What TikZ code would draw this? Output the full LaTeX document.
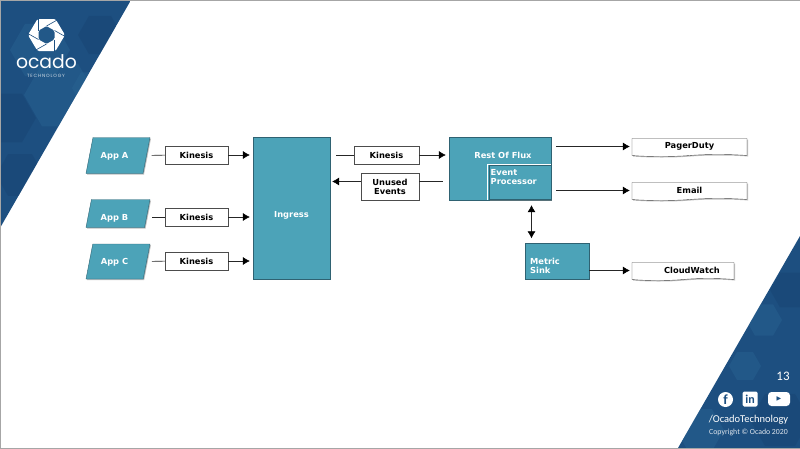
\documentclass[tikz,border=0pt]{standalone}
\usepackage{fontspec}
\setmainfont{DejaVu Sans}
\newfontfamily\logofont{Poppins}
\newfontfamily\footfont{Carlito}
\usetikzlibrary{arrows.meta,shapes.geometric,shapes.symbols,shadows}
\definecolor{boxteal}{HTML}{4CA3B8}
\definecolor{boxedge}{HTML}{2F6272}
\definecolor{navy}{HTML}{1D4F80}
\definecolor{navydark}{HTML}{174270}
\definecolor{navylight}{HTML}{2A6694}
\tikzstyle{softshadow}=[drop shadow={opacity=0.5, shadow xshift=1pt, shadow yshift=-1pt}]
\tikzstyle{appnode}=[trapezium, trapezium left angle=79, trapezium right angle=101, trapezium stretches body=true, draw=boxedge, fill=boxteal, inner sep=0pt, minimum width=64pt, text=white, font=\bfseries\fontsize{8.3}{9}\selectfont, softshadow]
\tikzstyle{boxnode}=[rectangle, draw=boxedge, fill=boxteal, inner sep=0pt, text=white, font=\bfseries\fontsize{8.3}{9}\selectfont, softshadow]
\tikzstyle{boxtext}=[inner sep=0pt, text=white, align=left, font=\bfseries\fontsize{8.3}{9}\selectfont]
\tikzstyle{queuenode}=[rectangle, draw=black!70, fill=white, inner sep=0pt, align=center, font=\bfseries\fontsize{8.3}{9}\selectfont, softshadow]
\tikzstyle{sinknode}=[tape, tape bend top=none, tape bend height=2pt, draw=black!70, fill=white, inner sep=0pt, font=\bfseries\fontsize{8.3}{9}\selectfont, softshadow]
\tikzstyle{flow}=[black!85, line width=0.55pt, -{Latex[length=7pt,width=8pt,color=black]}]
\tikzstyle{plainflow}=[black!85, line width=0.55pt]
\tikzstyle{bothflow}=[black!85, line width=0.55pt, {Latex[length=7pt,width=8pt,color=black]}-{Latex[length=7pt,width=8pt,color=black]}]
\newcommand{\appnode}{\node[appnode]}
\newcommand{\boxnode}{\node[boxnode]}
\newcommand{\queuenode}{\node[queuenode]}
\newcommand{\sinknode}{\node[sinknode]}
\begin{document}
\begin{tikzpicture}[x=1pt,y=-1pt]
            \useasboundingbox (0,0) rectangle (800,448);
            \fill[white] (0,0) rectangle (800,448);
            % corner top left
            \begin{scope}
                \clip (0,0) -- (131,0) -- (0,228) -- cycle;
                \fill[navy] (0,0) rectangle (131,228);
                \foreach \x/\y/\r/\c in {60/95/36/navylight, 8/118/28/navydark, 100/35/22/navydark, 20/175/24/navydark, 40/50/30/navylight, 90/88/18/navylight}
                    \fill[\c, opacity=0.4] (\x+\r,\y) -- (\x+0.5*\r,\y+0.87*\r) -- (\x-0.5*\r,\y+0.87*\r) -- (\x-\r,\y) -- (\x-0.5*\r,\y-0.87*\r) -- (\x+0.5*\r,\y-0.87*\r) -- cycle;
            \end{scope}
            % corner bottom right
            \begin{scope}
                \clip (800,236) -- (800,448) -- (678,448) -- cycle;
                \fill[navy] (678,236) rectangle (800,448);
                \foreach \x/\y/\r/\c in {764/320/18/navylight, 745/366/16/navylight, 790/290/20/navydark, 700/430/24/navylight, 780/420/30/navydark}
                    \fill[\c, opacity=0.4] (\x+\r,\y) -- (\x+0.5*\r,\y+0.87*\r) -- (\x-0.5*\r,\y+0.87*\r) -- (\x-\r,\y) -- (\x-0.5*\r,\y-0.87*\r) -- (\x+0.5*\r,\y-0.87*\r) -- cycle;
            \end{scope}
            \draw[black!35, line width=0.5pt] (0,0) rectangle (800,448);
            % logo
            \fill[white, even odd rule, rounded corners=1.5pt] (65,35) -- (55.5,51) -- (37.5,51) -- (28,35) -- (37.5,19) -- (55.5,19) -- cycle
                (46.5,26) -- (54.5,30.5) -- (54.5,39.5) -- (46.5,44) -- (38.5,39.5) -- (38.5,30.5) -- cycle;
            \foreach \xa/\ya/\xb/\yb in {46.5/26/58.5/19.25, 54.5/30.5/66.5/37.25, 54.5/39.5/54.5/52, 46.5/44/34.5/50.75, 38.5/39.5/26.5/32.75, 38.5/30.5/38.5/18}
                \draw[navy, line width=0.6pt] (\xa,\ya) -- (\xb,\yb);
            \node[inner sep=0pt, text=white] (logoname) at (46.5,62) {\logofont\fontsize{18.8}{19}\selectfont ocado};
            \node[inner sep=0pt, text=white!80!navy] (logotech) at (46,75.5) {\logofont\fontsize{4.6}{5}\selectfont\addfontfeature{LetterSpace=18}TECHNOLOGY};
            % apps
            \appnode[text height=20.5pt, text depth=15.5pt] (appa) at (118,155.5){App A\kern7pt};
            \appnode[text height=20.5pt, text depth=7.5pt] (appb) at (118,213.5){App B\kern7pt};
            \appnode[text height=20pt, text depth=15pt] (appc) at (118,261.5){App C\kern7pt};
            \queuenode[minimum width=63pt, minimum height=18pt] (kinesisa) at (196.5,155){Kinesis};
            \queuenode[minimum width=63pt, minimum height=18pt] (kinesisb) at (196.5,217){Kinesis};
            \queuenode[minimum width=63pt, minimum height=18pt] (kinesisc) at (196.5,261){Kinesis};
            \boxnode[minimum width=77pt, minimum height=142pt] (ingress) at (291.5,208){\raisebox{-9pt}[0pt][0pt]{Ingress}};
            \queuenode[minimum width=65pt, minimum height=18pt] (kinesisd) at (386.5,155){Kinesis};
            \queuenode[minimum width=58pt, minimum height=27pt] (unused) at (390,186.5){Unused\\Events};
            \boxnode[minimum width=102pt, minimum height=63pt] (rest) at (500,168.5){};
            \node[boxtext] (resttext) at (503,155){Rest Of Flux};
            \boxnode[minimum width=62pt, minimum height=34pt] (proc) at (520,182.5){};
            \node[boxtext, anchor=west] (proctext) at (490.5,177.5){Event\\Processor};
            \draw[white, line width=1.2pt] ([yshift=1.2pt]proc.north east) -| ([xshift=-1.2pt]proc.south west);
            \boxnode[minimum width=64pt, minimum height=36pt] (metric) at (557,261){};
            \node[boxtext, anchor=west] (metrictext) at (530,266){Metric\\Sink};
            \sinknode[minimum width=115pt, minimum height=18pt] (pagerduty) at (689.5,146.5){PagerDuty};
            \sinknode[minimum width=115pt, minimum height=18pt] (email) at (689.5,190.5){Email};
            \sinknode[minimum width=102pt, minimum height=18pt] (cloudwatch) at (683,270.5){\hspace{18pt}CloudWatch};
            % connectors
            \path
                (appa) edge[plainflow, shorten <=5pt] (kinesisa)
                (kinesisb.west -| appb.east) edge[plainflow, shorten <=5pt] (kinesisb)
                (appc) edge[plainflow, shorten <=5pt] (kinesisc)
                (kinesisa.east) edge[flow, shorten >=3pt] (kinesisa.east -| ingress.west)
                (kinesisb.east) edge[flow, shorten >=3pt] (kinesisb.east -| ingress.west)
                (kinesisc.east) edge[flow, shorten >=3pt] (kinesisc.east -| ingress.west)
                (kinesisd.west -| ingress.east) edge[plainflow, shorten <=6pt] (kinesisd.west)
                (kinesisd.east) edge[flow, shorten >=3pt] (kinesisd.east -| rest.west)
                ([yshift=5pt]unused.east) edge[plainflow, shorten >=6pt] ([yshift=5pt]unused.east -| rest.west)
                ([yshift=5pt]unused.west) edge[flow, shorten >=2pt] ([yshift=5pt]unused.west -| ingress.east)
                (pagerduty.west -| rest.east) edge[flow, shorten <=5pt, shorten >=2pt] (pagerduty.west)
                (email.west -| proc.east) edge[flow, shorten <=5pt, shorten >=2pt] (email.west)
                (cloudwatch.west -| metric.east) edge[flow, shorten >=2pt] (cloudwatch.west)
                ([xshift=11.5pt]proc.south) edge[bothflow, shorten <=5.5pt, shorten >=4.5pt] ([xshift=-25.5pt]metric.north)
            ;
            % footer
            \node[inner sep=0pt, text=white] (pagenum) at (783,376) {\footfont\fontsize{13}{13}\selectfont 13};
            \node[circle, fill=white, minimum size=15pt, inner sep=0pt, text=navy] (facebook) at (725.5,399.5) {\footfont\bfseries\fontsize{14}{14}\selectfont f};
            \node[rectangle, rounded corners=1.5pt, fill=white, minimum size=15pt, inner sep=0pt, text=navy] (linkedin) at (750,399) {\footfont\bfseries\fontsize{12}{12}\selectfont in};
            \node[rectangle, rounded corners=3.5pt, fill=white, minimum width=22pt, minimum height=14pt, inner sep=0pt, text=navy] (youtube) at (779,399) {\fontsize{6}{6}\selectfont ▶};
            \node[inner sep=0pt, text=white] (handle) at (748.5,420) {\footfont\fontsize{10.5}{11}\selectfont /OcadoTechnology};
            \node[inner sep=0pt, text=white!85!navy] (copyright) at (748.5,432) {\footfont\fontsize{7.8}{8}\selectfont Copyright © Ocado 2020};
        \end{tikzpicture}
\end{document}
